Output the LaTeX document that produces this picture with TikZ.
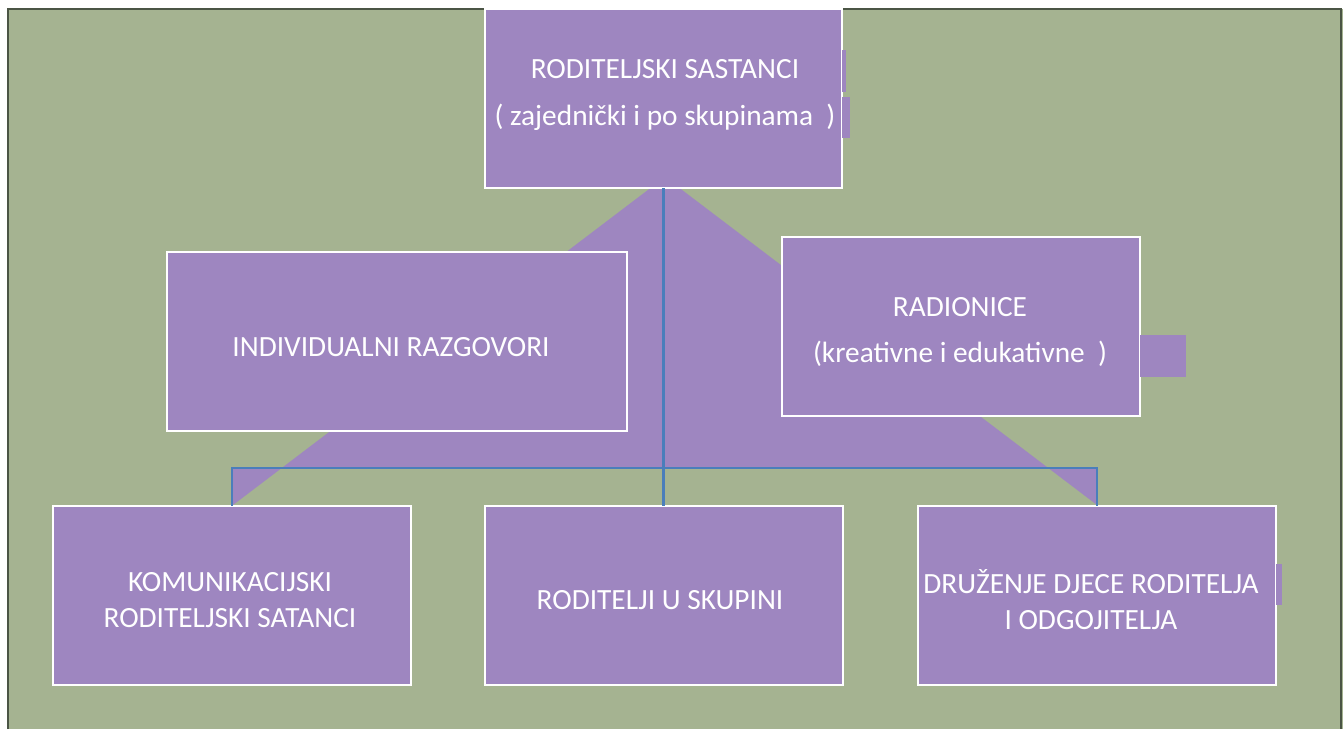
\documentclass[tikz,border=0pt]{standalone}
\usepackage{fontspec}
\setmainfont{Carlito}
\definecolor{bggreen}{RGB}{165,179,145}
\definecolor{boxpurple}{RGB}{158,134,192}
\definecolor{linkblue}{RGB}{74,126,187}
\definecolor{frameline}{RGB}{75,85,69}
\begin{document}
\begin{tikzpicture}[x=0.75pt,y=-0.75pt,
	box/.style={rectangle,fill=boxpurple,draw=white,line width=1.5pt,text=white,align=center,inner sep=0pt,outer sep=0pt,minimum width=268.5pt,minimum height=134.25pt,font=\fontsize{22}{27}\selectfont},
	boxtext/.style={box,draw=none,fill=none,minimum width=0pt,minimum height=0pt},
	link/.style={draw=linkblue,line width=1.6pt}]
		\useasboundingbox (0,0) rectangle (1343,729);
		\fill[bggreen] (8,9) rectangle (1343,729);
		\draw[frameline,line width=1.5pt] (8,729) -- (8,9) -- (1341,9) -- (1341,729);
		\fill[boxpurple] (665,177) -- (233,505) -- (233,468) -- (1097,468) -- (1097,505) -- cycle;
		\node[box,minimum width=267.75pt] (sastanci) at (663.5,98.5) {};
		\node[box,minimum width=345pt] (individualni) at (397,341.5) {};
		\node[box] (radionice) at (961,326) {};
		\node[box] (komunikacijski) at (232,595) {};
		\node[box] (skupina) at (663.5,595) {};
		\node[box] (druzenje) at (1097,595) {};
		\coordinate (bar) at (663.5,468);
		\draw[link] (sastanci.south) -- (skupina.north);
		\draw[link] (komunikacijski.north) |- (bar) -| (druzenje.north);
		\fill[boxpurple] (842,50) rectangle (846,92);
		\fill[boxpurple] (842,97) rectangle (850,138);
		\fill[boxpurple] (1140,335) rectangle (1186,377);
		\fill[boxpurple] (1276,564) rectangle (1282,605);
		\node[boxtext] (sastancitxt) at (665,95) {RODITELJSKI SASTANCI\\[8pt]( zajednički i po skupinama~~)};
		\node[boxtext] (individualnitxt) at (391,347) {INDIVIDUALNI RAZGOVORI};
		\node[boxtext] (radionicetxt) at (960,332) {RADIONICE\\[8pt](kreativne i edukativne~~)};
		\node[boxtext] (komunikacijskitxt) at (230,600) {KOMUNIKACIJSKI\\RODITELJSKI SATANCI};
		\node[boxtext] (skupinatxt) at (660,600) {RODITELJI U SKUPINI};
		\node[boxtext] (druzenjetxt) at (1091,600) {DRUŽENJE DJECE RODITELJA\\I ODGOJITELJA};
		\end{tikzpicture}
\end{document}
